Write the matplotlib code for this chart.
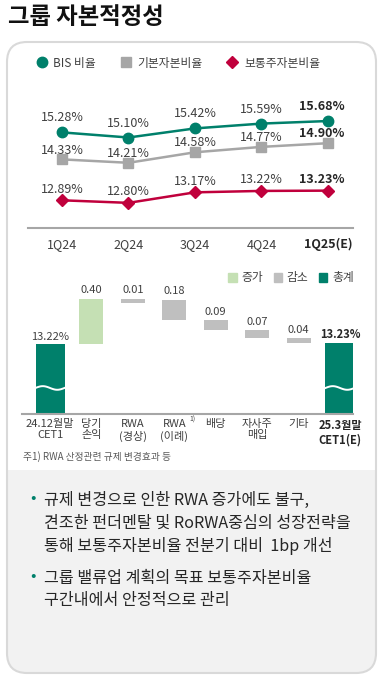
import numpy as np
import matplotlib
matplotlib.use('Agg')
import matplotlib.pyplot as plt
from matplotlib.patches import FancyBboxPatch, Rectangle, Patch
from matplotlib.lines import Line2D

plt.rcParams['font.family'] = ['Noto Sans CJK KR', 'DejaVu Sans']

# ---- data ----
quarters = ['1Q24', '2Q24', '3Q24', '4Q24', '1Q25(E)']
bis = [15.28, 15.10, 15.42, 15.59, 15.68]
tier1 = [14.33, 14.21, 14.58, 14.77, 14.90]
cet1 = [12.89, 12.80, 13.17, 13.22, 13.23]

wf_labels = ['24.12월말\nCET1', '당기\n손익', 'RWA\n(경상)', 'RWA\n(이례)',
             '배당', '자사주\n매입', '기타', '25.3월말\nCET1(E)']
wf_start = 13.22
wf_changes = [0.40, -0.01, -0.18, -0.09, -0.07, -0.04]
wf_end = 13.23

bullets = [
    ['규제 변경으로 인한 RWA 증가에도 불구,',
     '견조한 펀더멘탈 및 RoRWA중심의 성장전략을',
     '통해 보통주자본비율 전분기 대비  1bp 개선'],
    ['그룹 밸류업 계획의 목표 보통주자본비율',
     '구간내에서 안정적으로 관리'],
]

# ---- colours ----
teal = '#00806b'
gray = '#a6a6a6'
red = '#c0003c'
lgreen = '#c5e0b4'
lgray = '#bfbfbf'
txt = '#404040'

W, H = 378, 676
fig = plt.figure(figsize=(W / 100, H / 100), dpi=100)


def px_axes(x0, y0, x1, y1):
    return fig.add_axes([x0 / W, 1 - y1 / H, (x1 - x0) / W, (y1 - y0) / H])


# background panel
bg = fig.add_axes([0, 0, 1, 1], zorder=-1)
bg.set_xlim(0, W)
bg.set_ylim(H, 0)
bg.axis('off')
bg.add_patch(FancyBboxPatch((7, 470), 369, 203, boxstyle='round,pad=0,rounding_size=20',
                            facecolor='#f2f2f2', edgecolor='none'))
bg.add_patch(Rectangle((7, 470), 369, 30, facecolor='#f2f2f2', edgecolor='none'))
bg.add_patch(FancyBboxPatch((7, 42), 369, 631, boxstyle='round,pad=0,rounding_size=20',
                            facecolor='none', edgecolor='#d9d9d9', lw=1.5))

fig.text(8 / W, 1 - 17 / H, '그룹 자본적정성', fontsize=16.8, fontweight='bold',
         color='#111111', va='center', ha='left')

# ---- line chart ----
ax = px_axes(28, 100, 353, 228)
ax.patch.set_alpha(0)
x = np.arange(len(quarters))
ax.plot(x, bis, color=teal, lw=1.8, marker='o', ms=7.5, zorder=3)
ax.plot(x, tier1, color=gray, lw=1.8, marker='s', ms=7.5, zorder=3)
ax.plot(x, cet1, color=red, lw=1.8, marker='D', ms=6.5, zorder=3)
ax.set_xlim(-0.511, 4.376)
ax.set_ylim(11.915, 16.42)
for s in ['top', 'left', 'right']:
    ax.spines[s].set_visible(False)
ax.spines['bottom'].set_color(gray)
ax.spines['bottom'].set_linewidth(1.5)
ax.set_yticks([])
ax.set_xticks(x)
ax.set_xticklabels(quarters, fontsize=9, color=txt)
ax.tick_params(axis='x', length=0, pad=7)
ax.get_xticklabels()[-1].set_fontweight('bold')
ax.get_xticklabels()[-1].set_color('#262626')

for series, dy in [(bis, 10.4), (tier1, 6.7), (cet1, 7.9)]:
    for i, v in enumerate(series):
        last = i == len(series) - 1
        ax.annotate(f'{v:.2f}%', (i, v), xytext=(-4.3 if last else 0, dy),
                    textcoords='offset points', ha='center', va='center',
                    fontsize=9, color='#262626' if last else txt,
                    fontweight='bold' if last else 'normal')

handles = [Line2D([], [], ls='none', marker='o', ms=7.5, color=teal),
           Line2D([], [], ls='none', marker='s', ms=7.5, color=gray),
           Line2D([], [], ls='none', marker='D', ms=6.5, color=red)]
fig.legend(handles, ['BIS 비율', '기본자본비율', '보통주자본비율'], loc='center',
           bbox_to_anchor=(178 / W, 1 - 63 / H), ncol=3, frameon=False,
           fontsize=8.5, handlelength=1, handletextpad=0.5, columnspacing=2.0,
           labelcolor=txt)

# ---- waterfall ----
wx = px_axes(22, 285, 353, 414.3)
wx.patch.set_alpha(0)
wx.set_xlim(-0.676, 7.314)
wx.set_ylim(12.598, 13.742)
n = len(wf_labels)
tw, cw = 0.70, 0.58

wx.bar(0, wf_start, width=tw, color=teal)
wx.bar(n - 1, wf_end, width=tw, color=teal)
wx.annotate(f'{wf_start:.2f}%', (0, wf_start), xytext=(0, 1.5), textcoords='offset points',
            ha='center', va='bottom', fontsize=8, color=txt)
wx.annotate(f'{wf_end:.2f}%', (n - 1, wf_end), xytext=(0, 1.5), textcoords='offset points',
            ha='center', va='bottom', fontsize=8, color='#262626', fontweight='bold')

running = wf_start
for i, d in enumerate(wf_changes, start=1):
    top = running + max(d, 0)
    h = max(abs(d), 0.04)
    wx.bar(i, h, bottom=top - h, width=cw, color=lgreen if d > 0 else lgray)
    wx.annotate(f'{abs(d):.2f}', (i, top), xytext=(0, 2.5), textcoords='offset points',
                ha='center', va='bottom', fontsize=8, color=txt)
    running += d

# wavy break marks on total bars
for xc in [0, n - 1]:
    xs = np.linspace(xc - tw / 2, xc + tw / 2, 60)
    ys = 12.831 + 0.016 * np.sin((xs - xc + tw / 2) / tw * 2 * np.pi)
    wx.plot(xs, ys, color='white', lw=1.4)

for s in ['top', 'left', 'right']:
    wx.spines[s].set_visible(False)
wx.spines['bottom'].set_color(gray)
wx.spines['bottom'].set_linewidth(1.5)
wx.set_yticks([])
wx.set_xticks(range(n))
wx.set_xticklabels(wf_labels, fontsize=8, color=txt, linespacing=1.15, va='top')
wx.tick_params(axis='x', length=0, pad=3.5)
wx.get_xticklabels()[-1].set_fontweight('bold')
wx.get_xticklabels()[-1].set_color('#262626')
fig.text(189 / W, 1 - 420 / H, '1)', fontsize=5, color=txt, va='center')

wf_handles = [Patch(color=lgreen), Patch(color=lgray), Patch(color=teal)]
fig.legend(wf_handles, ['증가', '감소', '총계'], loc='center',
           bbox_to_anchor=(291 / W, 1 - 278 / H), ncol=3, frameon=False,
           fontsize=8.5, handlelength=0.7, handleheight=0.7, handletextpad=0.4,
           columnspacing=0.9, labelcolor=txt)

fig.text(23 / W, 1 - 457 / H, '주1) RWA 산정관련 규제 변경효과 등', fontsize=7,
         color='#595959', va='center')

# ---- bullet text ----
y = 500
for block in bullets:
    fig.text(33 / W, 1 - (y - 2) / H, '•', fontsize=11.5, color=teal, ha='center', va='center')
    for line in block:
        fig.text(44 / W, 1 - y / H, line, fontsize=11.6, color='#262626', va='center')
        y += 23
    y += 9

fig.savefig('out.png', dpi=100)
